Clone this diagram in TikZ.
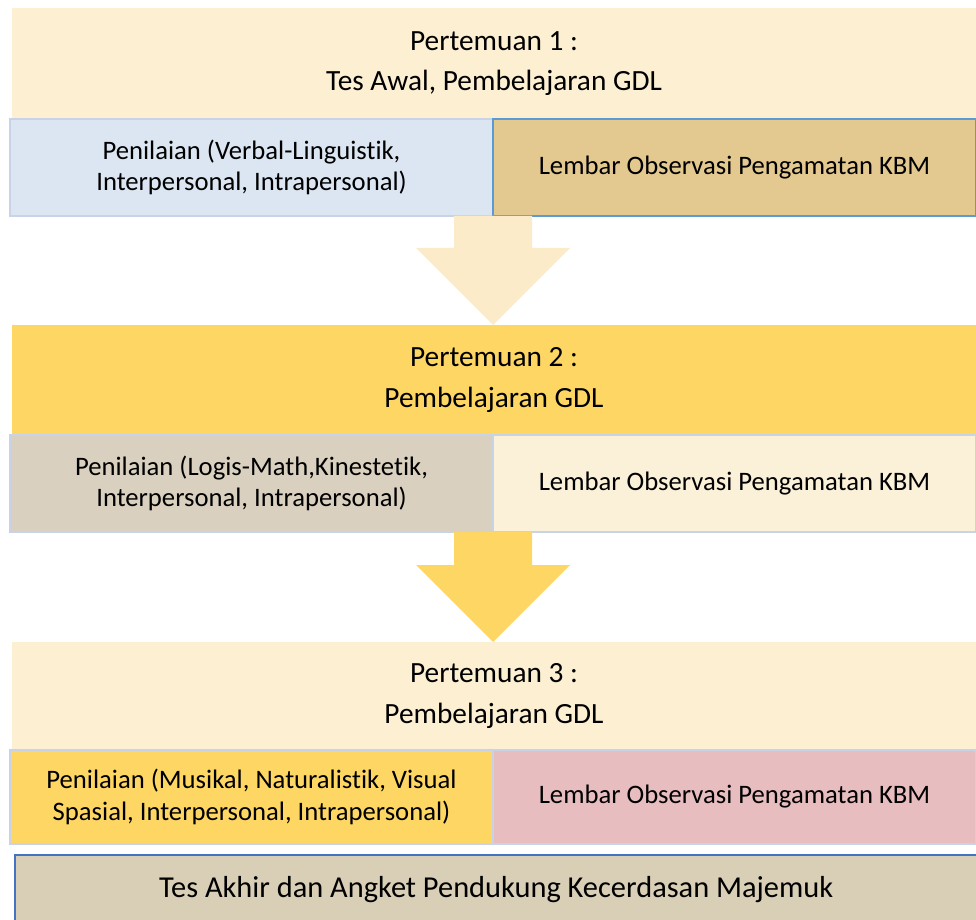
\documentclass[tikz,border=0pt]{standalone}
\usepackage{fontspec}
\setmainfont{Carlito}[Ligatures=NoCommon]
\usetikzlibrary{positioning,calc}

\definecolor{creamband}{HTML}{FCEFD2}
\definecolor{creamarrow}{HTML}{FBEBC8}
\definecolor{goldfill}{HTML}{FDD663}
\definecolor{bluecell}{HTML}{DCE6F2}
\definecolor{tancell}{HTML}{E3C98F}
\definecolor{linencell}{HTML}{D9D0BF}
\definecolor{palecell}{HTML}{FBF0D8}
\definecolor{pinkcell}{HTML}{E8BDC0}
\definecolor{finalcell}{HTML}{D9CEB6}
\definecolor{cellline}{HTML}{C9D3E8}
\definecolor{blueline}{HTML}{5B9BD5}
\definecolor{darkblueline}{HTML}{4472C4}

\begin{document}
\begin{tikzpicture}[x=0.75pt,y=-0.75pt,
    band/.style={fill=creamband, minimum width=723pt, inner sep=0pt, outer sep=0pt,
                 align=center, font=\fontsize{22}{30.5}\selectfont, anchor=north west},
    cell/.style={draw=cellline, line width=1.1pt, minimum width=362.25pt, minimum height=72.75pt,
                 inner sep=0pt, outer sep=0pt, align=center, font=\fontsize{20}{23.5}\selectfont}]
    \useasboundingbox (0,0) rectangle (976,920);

    % pertemuan 1
    \node[band, minimum height=83.25pt] (pt1) at (12,8)
        {Pertemuan 1 :\\Tes Awal, Pembelajaran GDL};
    \node[cell, fill=bluecell, anchor=north west] (nilai1) at (10,119)
        {Penilaian (Verbal-Linguistik,\\Interpersonal, Intrapersonal)};
    \node[cell, fill=tancell, draw=blueline, line width=1.5pt, right=0pt of nilai1] (obs1)
        {Lembar Observasi Pengamatan KBM};

    % pertemuan 2
    \node[band, fill=goldfill, minimum height=82.5pt] (pt2) at (12,325)
        {Pertemuan 2 :\\Pembelajaran GDL};
    \node[cell, fill=linencell, anchor=north west] (nilai2) at (10,435)
        {Penilaian (Logis-Math,Kinestetik,\\Interpersonal, Intrapersonal)};
    \node[cell, fill=palecell, right=0pt of nilai2] (obs2)
        {Lembar Observasi Pengamatan KBM};

    % pertemuan 3
    \node[band, minimum height=81pt] (pt3) at (12,642)
        {Pertemuan 3 :\\Pembelajaran GDL};
    \node[cell, fill=goldfill, anchor=north west, minimum height=70.5pt] (nilai3) at (10,750)
        {Penilaian (Musikal, Naturalistik, Visual\\Spasial, Interpersonal, Intrapersonal)};
    \node[cell, fill=pinkcell, minimum height=70.5pt, right=0pt of nilai3] (obs3)
        {Lembar Observasi Pengamatan KBM};

    % tes akhir
    \node[draw=darkblueline, line width=1.6pt, fill=finalcell, anchor=north west,
          minimum width=721.5pt, minimum height=51pt, inner sep=0pt,
          font=\fontsize{22.8}{26}\selectfont] (akhir) at (14,854)
        {Tes Akhir dan Angket Pendukung Kecerdasan Majemuk};

    % block arrows
    \coordinate (a1) at (nilai1.south east);
    \coordinate (a2) at (nilai2.south east);
    \fill[creamarrow] ($(a1)+(-39,0)$) -- ($(a1)+(39,0)$) -- ($(a1)+(39,32)$) -- ($(a1)+(77,32)$)
        -- (a1 |- pt2.north) -- ($(a1)+(-77,32)$) -- ($(a1)+(-39,32)$) -- cycle;
    \fill[goldfill] ($(a2)+(-39,0)$) -- ($(a2)+(39,0)$) -- ($(a2)+(39,33)$) -- ($(a2)+(77,33)$)
        -- (a2 |- pt3.north) -- ($(a2)+(-77,33)$) -- ($(a2)+(-39,33)$) -- cycle;
\end{tikzpicture}
\end{document}
